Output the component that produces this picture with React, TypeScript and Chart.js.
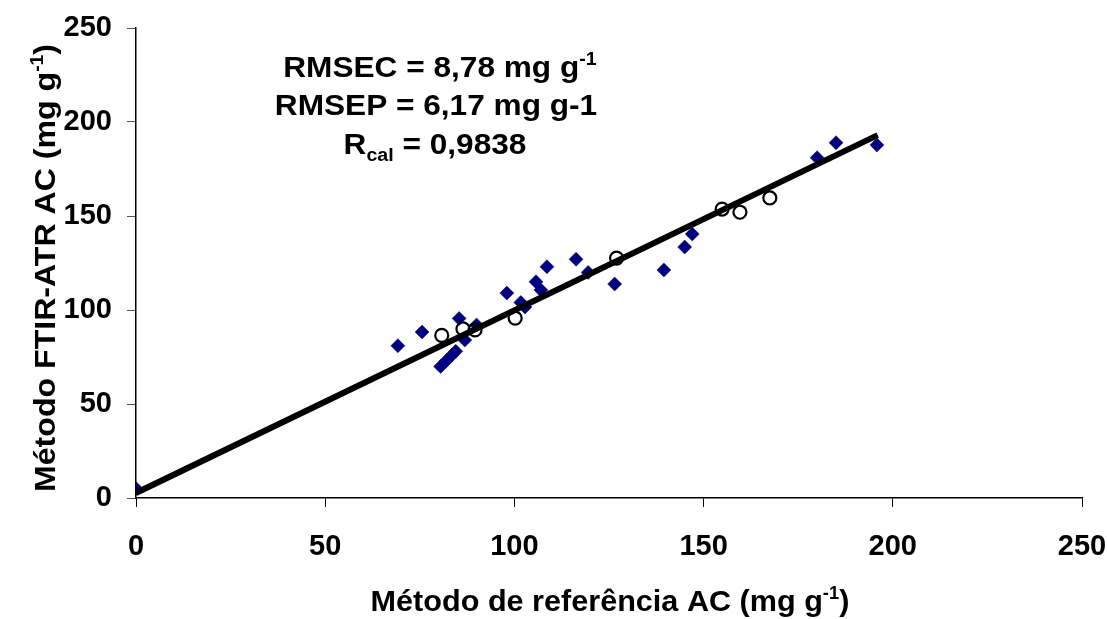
import React, { useEffect, useRef } from "react";
import { Chart, registerables } from "chart.js";

Chart.register(...registerables);

// Calibration set (filled diamonds)
const calX = [0, 69.2, 75.6, 80.5, 82, 83.5, 84.5, 85.4, 86.9, 90, 98, 101.7, 102.8, 105.7, 107, 108.6, 116.3, 119.5, 126.5, 139.5, 145, 147, 180, 185, 195.8];
const calY = [5, 81, 88.3, 70, 73, 76, 78, 95.5, 84, 92, 109, 104, 101.6, 115, 110.6, 123, 127, 120, 113.8, 121.3, 133.5, 140.4, 181, 189, 187.8];

// Prediction set (open circles)
const predX = [80.8, 86.4, 89.6, 100.2, 127, 154.9, 159.6, 167.5];
const predY = [86.5, 90, 89.4, 95.7, 127.6, 153.7, 152, 159.6];

// Regression line end points
const lineX = [0, 196];
const lineY = [2.7, 193];

const xTicks = [0, 50, 100, 150, 200, 250];
const yTicks = [0, 50, 100, 150, 200, 250];

const FONT = '"Liberation Sans", Arial, Helvetica, sans-serif';

type Seg = { t: string; s: number; dy?: number };

function segWidth(ctx: CanvasRenderingContext2D, segs: Seg[]) {
  let w = 0;
  for (const sg of segs) {
    ctx.font = `bold ${sg.s}px ${FONT}`;
    w += ctx.measureText(sg.t).width;
  }
  return w;
}

function drawSegs(ctx: CanvasRenderingContext2D, segs: Seg[], cx: number, baseline: number, sx = 1) {
  const w = segWidth(ctx, segs);
  ctx.save();
  ctx.translate(cx, baseline);
  ctx.scale(sx, 1);
  let x = -w / 2;
  ctx.textAlign = "left";
  ctx.textBaseline = "alphabetic";
  ctx.fillStyle = "#000";
  for (const sg of segs) {
    ctx.font = `bold ${sg.s}px ${FONT}`;
    ctx.fillText(sg.t, x, sg.dy || 0);
    x += ctx.measureText(sg.t).width;
  }
  ctx.restore();
}

const textPlugin = {
  id: "texts",
  afterDraw(chart: any) {
    const ctx: CanvasRenderingContext2D = chart.ctx;
    ctx.save();
    drawSegs(ctx, [{ t: "RMSEC = 8,78 mg g", s: 29 }, { t: "-1", s: 18, dy: -12 }], 440, 77, 1.09);
    drawSegs(ctx, [{ t: "RMSEP = 6,17 mg g-1", s: 29 }], 436, 115, 1.09);
    drawSegs(ctx, [{ t: "R", s: 29 }, { t: "cal", s: 18, dy: 7 }, { t: " = 0,9838", s: 29 }], 435, 154, 1.09);
    drawSegs(ctx, [{ t: "Método de referência AC (mg g", s: 30 }, { t: "-1", s: 18, dy: -12 }, { t: ")", s: 30 }], 610, 611, 1.02);
    ctx.translate(55, 268);
    ctx.rotate(-Math.PI / 2);
    drawSegs(ctx, [{ t: "Método FTIR-ATR AC (mg g", s: 30 }, { t: "-1", s: 18, dy: -12 }, { t: ")", s: 30 }], 0, 0, 1.07);
    ctx.restore();
  },
};

export default function App() {
  const ref = useRef<HTMLCanvasElement | null>(null);
  useEffect(() => {
    if (!ref.current) return;
    const chart = new Chart(ref.current, {
      type: "scatter",
      data: {
        datasets: [
          {
            label: "Calibração",
            data: calX.map((x, i) => ({ x, y: calY[i] })),
            pointStyle: "rectRot",
            pointRadius: 7,
            backgroundColor: "#000080",
            borderColor: "#000080",
            borderWidth: 0.5,
            order: 3,
          },
          {
            label: "Regressão",
            type: "line",
            data: lineX.map((x, i) => ({ x, y: lineY[i] })),
            borderColor: "#000",
            borderWidth: 6,
            pointRadius: 0,
            fill: false,
            order: 2,
          } as any,
          {
            label: "Previsão",
            data: predX.map((x, i) => ({ x, y: predY[i] })),
            pointStyle: "circle",
            pointRadius: 6.5,
            backgroundColor: "rgba(0,0,0,0)",
            borderColor: "#000",
            borderWidth: 2.2,
            order: 1,
          },
        ],
      },
      options: {
        responsive: false,
        animation: false,
        layout: { padding: { left: 0, right: 26, top: 28, bottom: 0 } },
        plugins: { legend: { display: false }, tooltip: { enabled: false } },
        scales: {
          x: {
            type: "linear",
            min: 0,
            max: 250,
            afterBuildTicks: (s: any) => {
              s.ticks = xTicks.map((v) => ({ value: v }));
            },
            afterFit: (s: any) => {
              s.height = 121;
              s.paddingLeft = 0;
              s.paddingRight = 0;
            },
            border: { display: true, color: "#000", width: 1.5 },
            grid: { drawOnChartArea: false, drawTicks: true, tickLength: 9, color: "#000", lineWidth: 1 },
            ticks: { color: "#000", padding: 23, font: { family: FONT, size: 29, weight: "bold" } },
          },
          y: {
            type: "linear",
            min: 0,
            max: 250,
            afterBuildTicks: (s: any) => {
              s.ticks = yTicks.map((v) => ({ value: v }));
            },
            afterFit: (s: any) => {
              s.width = 136;
              s.paddingTop = 0;
              s.paddingBottom = 0;
            },
            border: { display: true, color: "#000", width: 1.5 },
            grid: { drawOnChartArea: false, drawTicks: true, tickLength: 9, color: "#555", lineWidth: 1 },
            ticks: { color: "#000", padding: 15, font: { family: FONT, size: 29, weight: "bold" } },
          },
        },
      } as any,
      plugins: [textPlugin],
    });
    return () => chart.destroy();
  }, []);
  return (
    <div style={{ position: "fixed", left: 0, top: 0, width: 1108, height: 619, background: "#fff" }}>
      <canvas ref={ref} width={1108} height={619} style={{ width: 1108, height: 619 }} />
    </div>
  );
}
